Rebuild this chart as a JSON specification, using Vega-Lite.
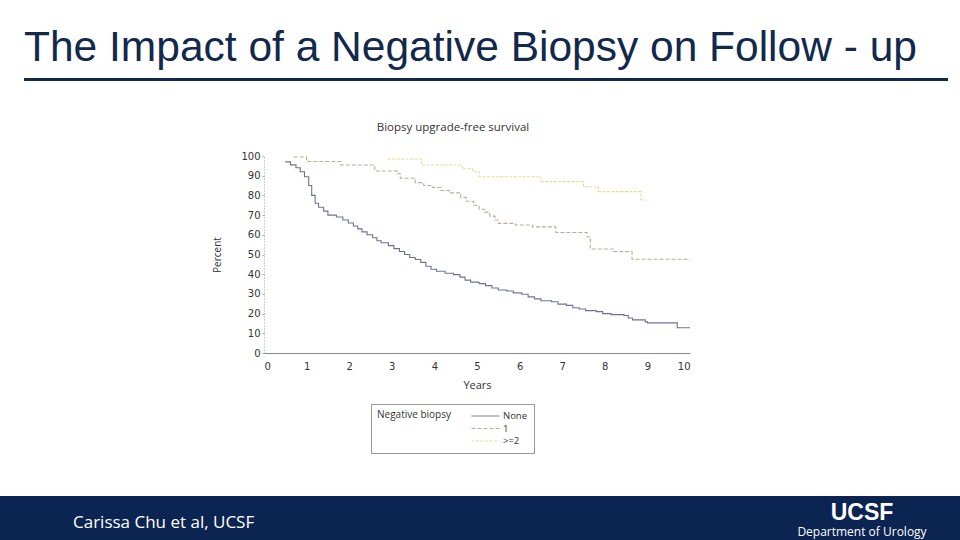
{
  "$schema": "https://vega.github.io/schema/vega-lite/v6.json",
  "background": "white",
  "padding": {"left": 0, "top": 26, "right": 0, "bottom": 0},
  "spacing": 0,
  "config": {
    "view": {"stroke": null},
    "axis": {"grid": false, "labelFont": "DejaVu Sans", "labelFontSize": 10, "labelColor": "#333", "titleFont": "Open Sans", "titleFontWeight": "normal", "titleColor": "#333"},
    "title": {"fontWeight": "normal"}
  },
  "vconcat": [
    {
      "spacing": 0,
      "hconcat": [
        {"width": 24, "height": 43, "data": {"values": []}, "mark": "point"},
        {
          "width": 924,
          "height": 3,
          "view": {"fill": "#13294b", "stroke": null},
          "title": {"text": "The Impact of a Negative Biopsy on Follow - up", "anchor": "start", "font": "Liberation Sans", "fontSize": 42.5, "fontWeight": "normal", "color": "#13294b", "offset": 9},
          "data": {"values": []},
          "mark": "point"
        }
      ]
    },
    {
      "spacing": 0,
      "hconcat": [
        {"width": 212, "height": 340, "data": {"values": []}, "mark": "point"},
        {
          "width": 426,
          "height": 197,
          "title": {"text": "Biopsy upgrade-free survival", "font": "Open Sans", "fontSize": 11.5, "color": "#333", "offset": 18, "dx": -24},
          "data": {
            "values": [
              {"negative_biopsy": "None", "years": 0.5, "percent": 97},
              {"negative_biopsy": "None", "years": 0.62, "percent": 95.5},
              {"negative_biopsy": "None", "years": 0.75, "percent": 94},
              {"negative_biopsy": "None", "years": 0.85, "percent": 92},
              {"negative_biopsy": "None", "years": 0.95, "percent": 89.5},
              {"negative_biopsy": "None", "years": 1.05, "percent": 85},
              {"negative_biopsy": "None", "years": 1.12, "percent": 80},
              {"negative_biopsy": "None", "years": 1.2, "percent": 76},
              {"negative_biopsy": "None", "years": 1.28, "percent": 74},
              {"negative_biopsy": "None", "years": 1.4, "percent": 72},
              {"negative_biopsy": "None", "years": 1.5, "percent": 70},
              {"negative_biopsy": "None", "years": 1.7, "percent": 69},
              {"negative_biopsy": "None", "years": 1.85, "percent": 67.5},
              {"negative_biopsy": "None", "years": 1.98, "percent": 66},
              {"negative_biopsy": "None", "years": 2.1, "percent": 64.5},
              {"negative_biopsy": "None", "years": 2.2, "percent": 63},
              {"negative_biopsy": "None", "years": 2.3, "percent": 61.5},
              {"negative_biopsy": "None", "years": 2.42, "percent": 60},
              {"negative_biopsy": "None", "years": 2.55, "percent": 58.5},
              {"negative_biopsy": "None", "years": 2.65, "percent": 57},
              {"negative_biopsy": "None", "years": 2.75, "percent": 56},
              {"negative_biopsy": "None", "years": 2.92, "percent": 54.5},
              {"negative_biopsy": "None", "years": 3.05, "percent": 53},
              {"negative_biopsy": "None", "years": 3.18, "percent": 51.5},
              {"negative_biopsy": "None", "years": 3.3, "percent": 50},
              {"negative_biopsy": "None", "years": 3.42, "percent": 48.5},
              {"negative_biopsy": "None", "years": 3.55, "percent": 47.5},
              {"negative_biopsy": "None", "years": 3.68, "percent": 46},
              {"negative_biopsy": "None", "years": 3.8, "percent": 44},
              {"negative_biopsy": "None", "years": 3.92, "percent": 42.5},
              {"negative_biopsy": "None", "years": 4.05, "percent": 41.5},
              {"negative_biopsy": "None", "years": 4.25, "percent": 40.5},
              {"negative_biopsy": "None", "years": 4.45, "percent": 39.8},
              {"negative_biopsy": "None", "years": 4.6, "percent": 38.5},
              {"negative_biopsy": "None", "years": 4.72, "percent": 37},
              {"negative_biopsy": "None", "years": 4.85, "percent": 36},
              {"negative_biopsy": "None", "years": 5.05, "percent": 35.2},
              {"negative_biopsy": "None", "years": 5.2, "percent": 34.2},
              {"negative_biopsy": "None", "years": 5.35, "percent": 33},
              {"negative_biopsy": "None", "years": 5.5, "percent": 32},
              {"negative_biopsy": "None", "years": 5.7, "percent": 31.5},
              {"negative_biopsy": "None", "years": 5.85, "percent": 30.5},
              {"negative_biopsy": "None", "years": 6.05, "percent": 29.8},
              {"negative_biopsy": "None", "years": 6.2, "percent": 28.5},
              {"negative_biopsy": "None", "years": 6.35, "percent": 27.5},
              {"negative_biopsy": "None", "years": 6.5, "percent": 26.5},
              {"negative_biopsy": "None", "years": 6.75, "percent": 26},
              {"negative_biopsy": "None", "years": 6.9, "percent": 24.8},
              {"negative_biopsy": "None", "years": 7.1, "percent": 24.2},
              {"negative_biopsy": "None", "years": 7.25, "percent": 23},
              {"negative_biopsy": "None", "years": 7.4, "percent": 22.3},
              {"negative_biopsy": "None", "years": 7.55, "percent": 21.5},
              {"negative_biopsy": "None", "years": 7.8, "percent": 21},
              {"negative_biopsy": "None", "years": 7.95, "percent": 20},
              {"negative_biopsy": "None", "years": 8.15, "percent": 19.5},
              {"negative_biopsy": "None", "years": 8.45, "percent": 19},
              {"negative_biopsy": "None", "years": 8.55, "percent": 17.8},
              {"negative_biopsy": "None", "years": 8.65, "percent": 16.8},
              {"negative_biopsy": "None", "years": 8.95, "percent": 15.8},
              {"negative_biopsy": "None", "years": 9.0, "percent": 15.3},
              {"negative_biopsy": "None", "years": 9.7, "percent": 12.8},
              {"negative_biopsy": "None", "years": 10.0, "percent": 12.8},
              {"negative_biopsy": "1", "years": 0.7, "percent": 99.5},
              {"negative_biopsy": "1", "years": 1.0, "percent": 97.2},
              {"negative_biopsy": "1", "years": 1.8, "percent": 95.4},
              {"negative_biopsy": "1", "years": 2.6, "percent": 92.4},
              {"negative_biopsy": "1", "years": 3.12, "percent": 91},
              {"negative_biopsy": "1", "years": 3.2, "percent": 88.7},
              {"negative_biopsy": "1", "years": 3.55, "percent": 86.5},
              {"negative_biopsy": "1", "years": 3.75, "percent": 85},
              {"negative_biopsy": "1", "years": 3.95, "percent": 84},
              {"negative_biopsy": "1", "years": 4.15, "percent": 82.5},
              {"negative_biopsy": "1", "years": 4.35, "percent": 81.3},
              {"negative_biopsy": "1", "years": 4.62, "percent": 79},
              {"negative_biopsy": "1", "years": 4.75, "percent": 77},
              {"negative_biopsy": "1", "years": 4.92, "percent": 75},
              {"negative_biopsy": "1", "years": 5.05, "percent": 73},
              {"negative_biopsy": "1", "years": 5.18, "percent": 71.5},
              {"negative_biopsy": "1", "years": 5.3, "percent": 69.5},
              {"negative_biopsy": "1", "years": 5.42, "percent": 67.5},
              {"negative_biopsy": "1", "years": 5.5, "percent": 65.8},
              {"negative_biopsy": "1", "years": 5.9, "percent": 65},
              {"negative_biopsy": "1", "years": 6.3, "percent": 64},
              {"negative_biopsy": "1", "years": 6.85, "percent": 61.2},
              {"negative_biopsy": "1", "years": 7.58, "percent": 59},
              {"negative_biopsy": "1", "years": 7.66, "percent": 52.8},
              {"negative_biopsy": "1", "years": 8.2, "percent": 51.5},
              {"negative_biopsy": "1", "years": 8.64, "percent": 47.6},
              {"negative_biopsy": "1", "years": 10.0, "percent": 47.6},
              {"negative_biopsy": ">=2", "years": 2.9, "percent": 98.5},
              {"negative_biopsy": ">=2", "years": 3.7, "percent": 95.4},
              {"negative_biopsy": ">=2", "years": 4.65, "percent": 93.5},
              {"negative_biopsy": ">=2", "years": 4.9, "percent": 92},
              {"negative_biopsy": ">=2", "years": 5.05, "percent": 89.5},
              {"negative_biopsy": ">=2", "years": 6.5, "percent": 87},
              {"negative_biopsy": ">=2", "years": 7.5, "percent": 84.4},
              {"negative_biopsy": ">=2", "years": 7.85, "percent": 81.9},
              {"negative_biopsy": ">=2", "years": 8.85, "percent": 77.7},
              {"negative_biopsy": ">=2", "years": 8.95, "percent": 77.7}
            ]
          },
          "mark": {"type": "line", "interpolate": "step-after", "strokeWidth": 1.1},
          "encoding": {
            "x": {
              "field": "years", "type": "quantitative", "title": "Years",
              "scale": {"domain": [0, 10], "nice": false},
              "axis": {"values": [0, 1, 2, 3, 4, 5, 6, 7, 8, 9, 10], "ticks": false, "domainColor": "#888", "labelPadding": 8, "titleFontSize": 11, "titlePadding": 8}
            },
            "y": {
              "field": "percent", "type": "quantitative", "title": "Percent",
              "scale": {"domain": [0, 100], "nice": false},
              "axis": {"values": [0, 10, 20, 30, 40, 50, 60, 70, 80, 90, 100], "domainDash": [1, 2], "domainColor": "#999", "tickSize": 2, "tickColor": "#aaa", "labelPadding": 2, "titleFontSize": 10, "titlePadding": 18}
            },
            "color": {
              "field": "negative_biopsy", "type": "nominal",
              "scale": {"domain": ["None", "1", ">=2"], "range": ["#6d7096", "#b9ae98", "#e3da96"]},
              "legend": {"title": "Negative biopsy", "orient": "none", "legendX": 371, "legendY": 326, "titleOrient": "left", "titleAnchor": "start", "direction": "vertical", "symbolType": "stroke", "symbolSize": 784, "symbolStrokeWidth": 1, "clipHeight": 12, "labelFont": "Open Sans", "labelFontSize": 9.5, "labelColor": "#333", "titleFont": "Open Sans", "titleFontSize": 10, "titleFontWeight": "normal", "titleColor": "#333", "rowPadding": 0.5, "titlePadding": 20, "strokeColor": "#999", "padding": 6, "labelOffset": 3}
            },
            "strokeDash": {
              "field": "negative_biopsy", "type": "nominal",
              "scale": {"domain": ["None", "1", ">=2"], "range": [[1, 0], [4, 2], [3, 1.5]]},
              "legend": {"title": "Negative biopsy", "orient": "none", "legendX": 371, "legendY": 326, "titleOrient": "left", "titleAnchor": "start", "direction": "vertical", "symbolType": "stroke", "symbolSize": 784, "symbolStrokeWidth": 1, "clipHeight": 12, "labelFont": "Open Sans", "labelFontSize": 9.5, "labelColor": "#333", "titleFont": "Open Sans", "titleFontSize": 10, "titleFontWeight": "normal", "titleColor": "#333", "rowPadding": 0.5, "titlePadding": 20, "strokeColor": "#999", "padding": 6, "labelOffset": 3}
            }
          }
        }
      ]
    },
    {
      "spacing": 0,
      "hconcat": [
        {
          "width": 780,
          "height": 44,
          "view": {"fill": "#0b2452", "stroke": null},
          "title": {"text": "Carissa Chu et al, UCSF", "anchor": "start", "dx": 73, "offset": -36, "font": "Open Sans", "fontSize": 17, "fontWeight": "normal", "color": "white"},
          "data": {"values": []},
          "mark": "point"
        },
        {
          "width": 180,
          "height": 44,
          "view": {"fill": "#0b2452", "stroke": null},
          "title": {"text": "UCSF", "subtitle": "Department of Urology", "anchor": "middle", "dx": -8, "offset": -42, "font": "Liberation Sans", "fontSize": 23, "fontWeight": "bold", "color": "white", "subtitleFont": "Open Sans", "subtitleFontSize": 12, "subtitleColor": "white", "subtitlePadding": 2},
          "data": {"values": []},
          "mark": "point"
        }
      ]
    }
  ]
}
